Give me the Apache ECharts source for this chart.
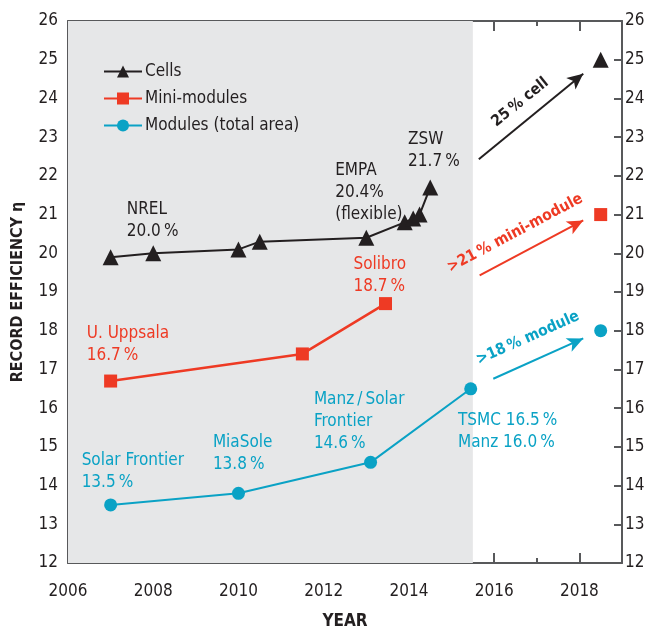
<!DOCTYPE html>
<html>
<head>
<meta charset="utf-8">
<script src="https://cdn.jsdelivr.net/npm/echarts@6/dist/echarts.min.js"></script>
<style>html,body{margin:0;padding:0;background:#fff}#c{width:648px;height:632px}</style>
</head>
<body>
<div id="c"></div>
<script>
// ---- data ----
const cells = [[2007,19.9],[2008,20.0],[2010,20.1],[2010.5,20.3],[2013,20.4],[2013.9,20.8],[2014.1,20.9],[2014.25,21.0],[2014.5,21.7]];
const miniModules = [[2007,16.7],[2011.5,17.4],[2013.45,18.7]];
const modules = [[2007,13.5],[2010,13.8],[2013.1,14.6],[2015.45,16.5]];
const cellTarget = [[2018.5,25]];
const miniTarget = [[2018.5,21]];
const moduleTarget = [[2018.5,18]];
const shadedRange = [2006, 2015.5];
const arrowCell = [[2015.64,22.43],[2018.09,24.64]];
const arrowMini = [[2015.66,19.43],[2018.09,20.85]];
const arrowModule = [[2015.98,16.76],[2018.09,17.80]];
const arrowLabels = [
  [2016.61,23.90,'25\u2009% cell',39,'black'],
  [2016.49,20.52,'>21\u2009% mini-module',28,'red'],
  [2016.79,17.81,'>18\u2009% module',24,'blue']
];
const notes = [
  [2007.38,21.32,'NREL\n20.0\u2009%','black'],
  [2012.27,22.32,'EMPA\n20.4%\n(flexible)','black'],
  [2013.98,23.13,'ZSW\n21.7\u2009%','black'],
  [2012.70,19.90,'Solibro\n18.7\u2009%','red'],
  [2006.44,18.10,'U. Uppsala\n16.7\u2009%','red'],
  [2006.32,14.82,'Solar Frontier\n13.5\u2009%','blue'],
  [2009.40,15.30,'MiaSole\n13.8\u2009%','blue'],
  [2011.77,16.39,'Manz\u2009/\u2009Solar\nFrontier\n14.6\u2009%','blue'],
  [2015.15,15.86,'TSMC 16.5\u2009%\nManz 16.0\u2009%','blue']
];
const seriesNames = ['Cells','Mini-modules','Modules (total area)'];

// ---- style ----
const FONT = '"DejaVu Sans Condensed",Roboto,sans-serif';
const COL = {black:'#231f20', red:'#ee3a24', blue:'#0aa2c5'};
const AXIS = '#58595b';

const chart = echarts.init(document.getElementById('c'), null, {renderer:'canvas'});

function xAx(pos, showLabel){
  return {
    type:'value', position:pos, min:2006, max:2019, interval:2,
    axisLine:{show:true, onZero:false, lineStyle:{color:AXIS,width:2}},
    axisTick:{show:true, inside:true, length:10, lineStyle:{color:AXIS,width:2}},
    minorTick:{show:true, splitNumber:2, length:5, lineStyle:{color:AXIS,width:2}},
    axisLabel:{show:showLabel, fontFamily:FONT, fontSize:17, color:COL.black, margin:20,
      formatter:v=> (v===2019? '' : String(v))},
    splitLine:{show:false},
    name: showLabel ? 'YEAR' : '',
    nameLocation:'middle', nameGap:50,
    nameTextStyle:{fontFamily:FONT, fontSize:17, fontWeight:'bold', color:COL.black}
  };
}
function yAx(pos, name){
  return {
    type:'value', position:pos, min:12, max:26, interval:1,
    axisLine:{show:true, lineStyle:{color:AXIS,width:2}},
    axisTick:{show:true, inside:true, length:8, lineStyle:{color:AXIS,width:2}},
    axisLabel:{fontFamily:FONT, fontSize:17, color:COL.black, margin: pos==='left'?10:3},
    splitLine:{show:false},
    name:name, nameLocation:'middle', nameGap:42, nameRotate:90,
    nameTextStyle:{fontFamily:FONT, fontSize:16, fontWeight:'bold', color:COL.black}
  };
}

function arrowLine(pts, color){
  return {
    type:'line', data:[], xAxisIndex:0, yAxisIndex:0, silent:true, z:4,
    markLine:{silent:true, symbol:['none','arrow'], symbolSize:[11,16], animation:false,
      label:{show:false},
      lineStyle:{color:color, width:2, type:'solid'},
      emphasis:{disabled:true},
      data:[[{coord:pts[0]},{coord:pts[1]}]]}
  };
}

const noteSeries = ['black','red','blue'].map(c=>({
  type:'scatter', symbolSize:0, silent:true, z:6, xAxisIndex:0, yAxisIndex:0,
  itemStyle:{opacity:1},
  data: notes.filter(n=>n[3]===c).map(n=>({value:[n[0],n[1]], label:{formatter:n[2]}})),
  label:{show:true, position:[0,0], offset:[0,-4], align:'left', verticalAlign:'top',
    fontFamily:FONT, fontSize:17, lineHeight:22, color:COL[c]}
}));
const arrowLabelSeries = {
  type:'scatter', symbolSize:0, silent:true, z:6, xAxisIndex:0, yAxisIndex:0,
  itemStyle:{opacity:1},
  data: arrowLabels.map(a=>({value:[a[0],a[1]], label:{formatter:a[2], rotate:a[3], color:COL[a[4]]}})),
  label:{show:true, position:[0,0], align:'center', verticalAlign:'middle',
    fontFamily:FONT, fontSize:15.5, fontWeight:'bold'}
};

const option = {
  backgroundColor:'#ffffff',
  animation:false,
  grid:{left:68, right:26, top:21, bottom:69, containLabel:false, outerBoundsMode:'none'},
  xAxis:[xAx('bottom',true), xAx('top',false)],
  yAxis:[yAx('left','RECORD EFFICIENCY \u03b7'), yAx('right','')],
  legend:{
    data:seriesNames, orient:'vertical', left:103, top:63, itemGap:10, padding:0,
    itemWidth:38, itemHeight:15, selectedMode:false,
    textStyle:{fontFamily:FONT, fontSize:17, color:COL.black, padding:[0,0,0,-2]}
  },
  series:[
    {type:'line', data:[], silent:true, z:1,
      markArea:{silent:true, itemStyle:{color:'#e6e7e8'},
        data:[[{xAxis:shadedRange[0]},{xAxis:shadedRange[1]}]]}},
    {name:seriesNames[0], type:'line', data:cells, symbol:'triangle', symbolSize:16, z:5,
      lineStyle:{color:COL.black,width:2}, itemStyle:{color:COL.black}},
    {name:seriesNames[1], type:'line', data:miniModules, symbol:'rect', symbolSize:13, z:5,
      lineStyle:{color:COL.red,width:2.5}, itemStyle:{color:COL.red}},
    {name:seriesNames[2], type:'line', data:modules, symbol:'circle', symbolSize:13, z:5,
      lineStyle:{color:COL.blue,width:2}, itemStyle:{color:COL.blue}},
    {name:'cellTarget', type:'scatter', data:cellTarget, symbol:'triangle', symbolSize:16, itemStyle:{color:COL.black, opacity:1}, z:5},
    {name:'miniTarget', type:'scatter', data:miniTarget, symbol:'rect', symbolSize:13, itemStyle:{color:COL.red, opacity:1}, z:5},
    {name:'moduleTarget', type:'scatter', data:moduleTarget, symbol:'circle', symbolSize:13, itemStyle:{color:COL.blue, opacity:1}, z:5},
    arrowLine(arrowCell, COL.black),
    arrowLine(arrowMini, COL.red),
    arrowLine(arrowModule, COL.blue),
    ...noteSeries,
    arrowLabelSeries
  ]
};
chart.setOption(option);
</script>
</body>
</html>
